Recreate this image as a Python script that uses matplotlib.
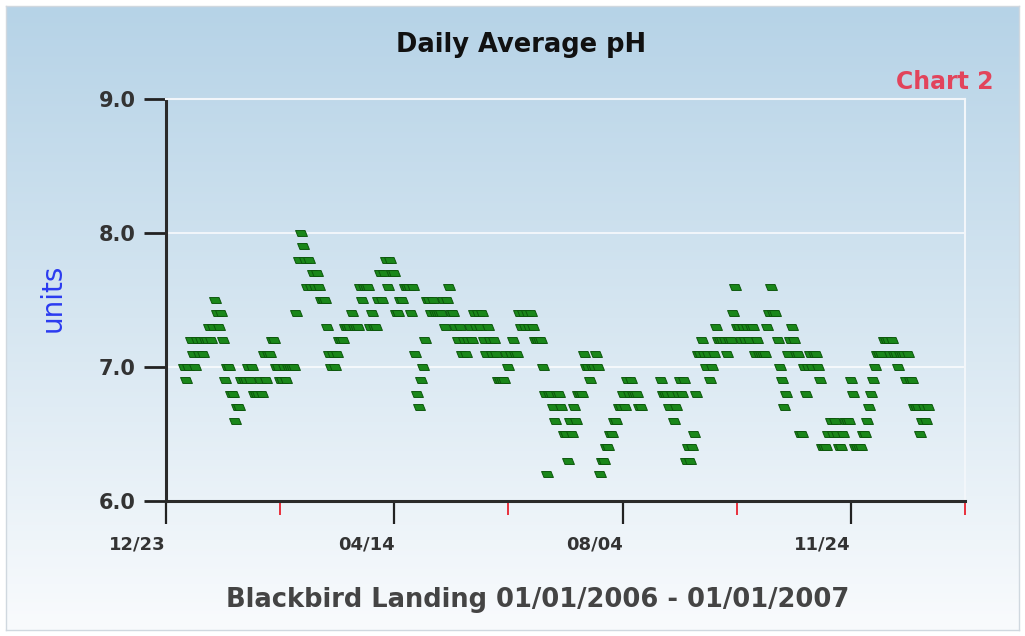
import numpy as np
import pandas as pd
import matplotlib
matplotlib.use('Agg')
import matplotlib.pyplot as plt
from matplotlib.path import Path
from matplotlib.colors import LinearSegmentedColormap

# --- daily average pH, one list per month (nan = no reading) ---
jan = [7.0, 6.9, 7.0, 7.2, 7.1, 7.0, 7.2, 7.1, 7.2, 7.1, 7.2, 7.2, 7.3, 7.2, 7.3, 7.5,
       7.4, 7.3, 7.4, 7.2, 6.9, 7.0, 7.0, 6.8, 6.8, 6.6, 6.7, 6.7, 6.9, 6.9, 6.9]
feb = [7.0, 6.9, 7.0, 6.8, 6.8, 6.8, 6.9, 6.8, 7.1, 6.9, 7.1, 7.1, 7.2, 7.2, 7.0, 7.0,
       6.9, 6.9, 7.0, 6.9, 7.0, 7.0, 7.0, 7.0, 7.4, 7.8, 8.0, 7.9]
mar = [7.8, 7.6, 7.8, 7.6, 7.7, 7.6, 7.7, 7.6, 7.5, 7.5, 7.5, 7.3, 7.1, 7.0, 7.1, 7.0,
       7.1, 7.2, 7.2, 7.2, 7.3, 7.3, 7.3, 7.4, 7.3, 7.3, 7.3, 7.6, 7.5, 7.6, 7.6]
apr = [7.6, 7.3, 7.4, 7.3, 7.3, 7.5, 7.7, 7.5, 7.7, 7.8, 7.6, 7.8, 7.7, 7.7, 7.4, 7.4,
       7.5, 7.5, 7.6, 7.6, 7.6, 7.4, 7.6, 7.1, 6.8, 6.7, 6.9, 7.0, 7.2, 7.5]
may = [7.5, 7.4, 7.5, 7.4, 7.4, 7.4, 7.4, 7.5, 7.3, 7.5, 7.6, 7.4, 7.4, 7.3, 7.2, 7.3,
       7.1, 7.2, 7.1, 7.2, 7.3, 7.2, 7.4, 7.3, 7.4, 7.3, 7.4, 7.2, 7.1, 7.3, 7.2]
jun = [7.1, 7.2, 7.1, 6.9, 6.9, 6.9, 6.9, 7.1, 7.0, 7.1, 7.2, 7.1, 7.1, 7.4, 7.3, 7.4,
       7.3, 7.4, 7.3, 7.4, 7.3, 7.2, 7.2, 7.2, 7.2, 7.0, 6.8, 6.2, 6.8, 6.8]
jul = [6.7, 6.6, 6.8, 6.8, 6.7, 6.5, 6.5, 6.3, 6.6, 6.5, 6.7, 6.6, 6.8, 6.8, 6.8, 7.1,
       7.0, 7.0, 6.9, 7.0, 7.0, 7.1, 7.0, 6.2, 6.3, 6.3, 6.4, 6.4, 6.5, 6.5, 6.6]
aug = [6.6, 6.7, 6.7, 6.8, 6.7, 6.9, 6.8, 6.9, 6.8, 6.8, 6.8, 6.7, 6.7,
       np.nan, np.nan, np.nan, np.nan, np.nan, np.nan, np.nan, np.nan, np.nan,
       6.9, 6.8, 6.8, 6.8, 6.7, 6.8, 6.6, 6.7, 6.8]
sep = [6.9, 6.8, 6.9, 6.3, 6.4, 6.3, 6.4, 6.5, 6.8, 7.1, 7.1, 7.2, 7.1, 7.0, 7.1, 6.9,
       7.0, 7.1, 7.3, 7.2, 7.2, 7.2, 7.2, 7.1, 7.2, 7.2, 7.4, 7.6, 7.3, 7.3]
oct_ = [7.2, 7.3, 7.2, 7.3, 7.2, 7.3, 7.3, 7.1, 7.2, 7.1, 7.1, 7.1, 7.1, 7.3, 7.4, 7.6,
        7.4, 7.4, 7.2, 7.0, 6.9, 6.7, 6.8, 7.1, 7.2, 7.3, 7.2, 7.1, 7.1, 6.5, 6.5]
nov = [7.0, 6.8, 7.0, 7.1, 7.0, 7.1, 7.1, 7.0, 6.9, 6.4, 6.4, 6.4, 6.5, 6.6, 6.5, 6.6,
       6.5, 6.4, 6.4, 6.5, 6.6, 6.6, 6.6, 6.9, 6.8, 6.4, 6.4, 6.4, 6.4, 6.5]
dec = [6.5, 6.6, 6.7, 6.8, 6.9, 7.0, 7.1, 7.1, 7.1, 7.2, 7.2, 7.2, 7.1, 7.2, 7.1, 7.1,
       7.0, 7.1, 7.1, 7.1, 6.9, 7.1, 6.9, 6.9, 6.7, 6.7, 6.7, 6.5, 6.6, 6.7, 6.6]
jan07 = [6.7]

ph = np.array(jan + feb + mar + apr + may + jun + jul + aug + sep + oct_ + nov + dec + jan07)
days = pd.date_range('2006-01-01', periods=len(ph), freq='D')

x_start, x_end = pd.Timestamp('2005-12-23'), pd.Timestamp('2007-01-19')
major_dates = pd.to_datetime(['2005-12-23', '2006-04-14', '2006-08-04', '2006-11-24'])
minor_dates = pd.to_datetime(['2006-02-17', '2006-06-09', '2006-09-29', '2007-01-19'])
major_labels = ['12/23', '04/14', '08/04', '11/24']
y_ticks = [6.0, 7.0, 8.0, 9.0]

# --- figure + gradient background ---
fig = plt.figure(figsize=(10.25, 6.36), dpi=100)
fig.patch.set_facecolor('white')

bg = fig.add_axes([0.006, 0.01, 0.988, 0.98], zorder=0)
grad = np.linspace(0, 1, 256).reshape(-1, 1)
cmap = LinearSegmentedColormap.from_list('bg', ['#b6d3e7', '#d6e6f1', '#f9fbfd'])
bg.imshow(grad, aspect='auto', cmap=cmap, extent=[0, 1, 0, 1])
bg.set_xticks([])
bg.set_yticks([])
for s in bg.spines.values():
    s.set_color('#d0d8df')
    s.set_linewidth(1.0)

ax = fig.add_axes([0.162, 0.2123, 0.7795, 0.632], zorder=1)
ax.patch.set_alpha(0)

# slanted little dash used for each day
marker = Path([(-0.6, -0.5), (1.0, -0.5), (0.6, 0.5), (-1.0, 0.5), (-0.6, -0.5)],
              [Path.MOVETO, Path.LINETO, Path.LINETO, Path.LINETO, Path.CLOSEPOLY])
ax.plot(days, ph, linestyle='none', marker=marker, ms=8.5,
        mfc='#1a871a', mec='#0c570c', mew=0.7, zorder=3)

for v in y_ticks[1:3]:
    ax.axhline(v, color='white', lw=1.2, alpha=0.85, zorder=1)

ax.set_xlim(x_start, x_end)
ax.set_ylim(6.0, 9.0)

ax.set_xticks(major_dates)
ax.set_xticklabels(major_labels)
ax.set_xticks(minor_dates, minor=True)
ax.set_yticks(y_ticks)
ax.set_yticklabels([f'{v:.1f}' for v in y_ticks])

ax.tick_params(axis='x', which='major', length=16.5, width=1.6, color='#222222',
               pad=8, labelsize=13, labelcolor='#333333')
ax.tick_params(axis='x', which='minor', length=10, width=1.4, color='#e8303c')
ax.tick_params(axis='y', which='major', length=16, width=2.0, color='#222222',
               pad=6, labelsize=15, labelcolor='#333333')

# labels sit just left of their tick
for lab in ax.get_xticklabels():
    lab.set_fontweight('bold')
    lab.set_ha('right')
for lab in ax.get_yticklabels():
    lab.set_fontweight('bold')

ax.spines['left'].set_color('#2a2a2a')
ax.spines['left'].set_linewidth(2.2)
ax.spines['bottom'].set_color('#2a2a2a')
ax.spines['bottom'].set_linewidth(2.2)
ax.spines['top'].set_color('#f2f6fa')
ax.spines['top'].set_linewidth(1.5)
ax.spines['right'].set_color('#f2f6fa')
ax.spines['right'].set_linewidth(1.5)

# --- texts ---
fig.text(0.508, 0.929, 'Daily Average pH', ha='center', va='center',
         fontsize=18.5, fontweight='bold', color='#111111')
fig.text(0.969, 0.871, 'Chart 2', ha='right', va='center',
         fontsize=17, fontweight='bold', color='#e2445c')
fig.text(0.051, 0.531, 'units', rotation=90, ha='center', va='center',
         fontsize=20, color='#2b3bf0')
fig.text(0.525, 0.057, 'Blackbird Landing 01/01/2006 - 01/01/2007', ha='center', va='center',
         fontsize=18.5, fontweight='bold', color='#444444')

fig.savefig('out.png', dpi=100)
